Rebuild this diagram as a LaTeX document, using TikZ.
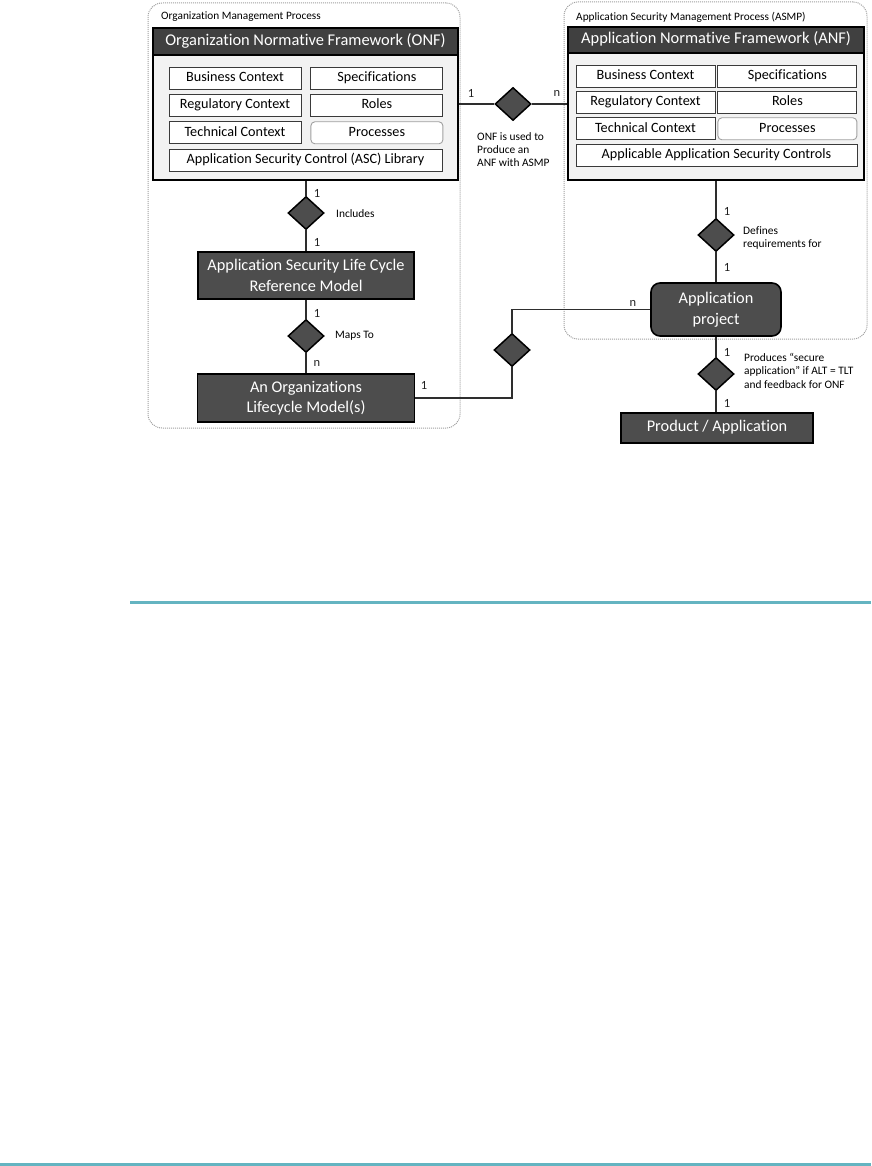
\documentclass[tikz,border=0pt]{standalone}
\usepackage{fontspec}
\setmainfont{Carlito}[Ligatures=NoCommon]
\usepackage{tikz}
\usetikzlibrary{positioning,shapes.geometric,calc}
\definecolor{darkgrey}{HTML}{4D4D4D}
\definecolor{headgrey}{HTML}{404040}
\definecolor{bodygrey}{HTML}{F2F2F2}
\definecolor{framegrey}{HTML}{A0A0A0}
\definecolor{edgegrey}{HTML}{3A3A3A}
\definecolor{linegrey}{HTML}{2E2E2E}
\definecolor{cardink}{HTML}{202020}
\definecolor{ruleteal}{HTML}{64B4C1}
\tikzset{
  procframe/.style={rectangle, draw=framegrey, dash pattern=on 1pt off 1pt,
    line width=1pt, rounded corners=14pt},
  proctitle/.style={font=\fontsize{11.3}{13}\selectfont, inner sep=0pt},
  fwbox/.style={rectangle, draw=black, fill=bodygrey, line width=1.6pt},
  fwhead/.style={rectangle, draw=black, fill=headgrey, line width=1.6pt,
    text=white, font=\fontsize{16.4}{19}\selectfont, inner sep=0pt,
    text height=11.5pt, text depth=4pt},
  itembox/.style={rectangle, draw=edgegrey, fill=white, line width=0.9pt,
    minimum width=#1, minimum height=22pt,
    font=\fontsize{14.2}{16}\selectfont, inner sep=0pt,
    text height=10pt, text depth=3.5pt},
  itembox/.default=132pt,
  darkbox/.style={rectangle, draw=black, fill=darkgrey, line width=1.6pt,
    text=white, align=center, font=\fontsize{16.3}{20.5}\selectfont,
    inner sep=0pt},
  relbox/.style={diamond, draw=black, fill=darkgrey, line width=1.5pt,
    minimum width=36pt, minimum height=33pt, inner sep=0pt},
  card/.style={font=\fontsize{12.5}{14}\selectfont, text=cardink, inner sep=0pt},
  note/.style={font=\fontsize{11.4}{13}\selectfont, align=left, inner sep=0pt,
    anchor=west},
  conn/.style={draw=linegrey, line width=1.2pt},
}
\begin{document}
\begin{tikzpicture}[x=1pt, y=-1pt]
    \useasboundingbox (0,0) rectangle (871,1166);
    % organization side
    \node[procframe, minimum width=312pt, minimum height=425pt] (omp) at (304,215.5) {};
    \node[proctitle, anchor=west] (omptitle) at (161,17) {Organization Management Process};
    \node[fwbox, minimum width=305pt, minimum height=152pt] (onf) at (305.5,104) {};
    \node[fwhead, minimum width=305pt, minimum height=27pt, anchor=north] (onfhead) at (onf.north) {Organization Normative Framework (ONF)};
    \node[itembox] (onfbus) at (235,78) {Business Context};
    \node[itembox, right=9pt of onfbus] (onfspec) {Specifications};
    \node[itembox, below=4.5pt of onfbus] (onfreg) {Regulatory Context};
    \node[itembox, below=4.5pt of onfspec] (onfroles) {Roles};
    \node[itembox, below=4.5pt of onfreg] (onftech) {Technical Context};
    \node[itembox, below=4.5pt of onfroles, draw=framegrey, rounded corners=4pt] (onfproc) {Processes};
    \node[itembox=273pt, below=4.5pt of onftech.south west, anchor=north west] (onflib) {Application Security Control (ASC) Library};
    \node[darkbox, minimum width=216pt, minimum height=47pt] (aslc) at (306,275.5) {Application Security Life Cycle\\Reference Model};
    \node[darkbox, minimum width=217pt, minimum height=48pt] (olm) at (306,398) {An Organizations\\Lifecycle Model(s)};
    % application side
    \node[procframe, minimum width=303pt, minimum height=337pt] (asmp) at (715.5,170.5) {};
    \node[proctitle, anchor=west] (asmptitle) at (576,17) {Application Security Management Process (ASMP)};
    \node[fwbox, minimum width=296pt, minimum height=153pt] (anf) at (716,103.5) {};
    \node[fwhead, minimum width=296pt, minimum height=26pt, anchor=north] (anfhead) at (anf.north) {Application Normative Framework (ANF)};
    \node[itembox=139pt] (anfbus) at (645.5,76) {Business Context};
    \node[itembox=139pt, right=2pt of anfbus] (anfspec) {Specifications};
    \node[itembox=139pt, below=3.5pt of anfbus] (anfreg) {Regulatory Context};
    \node[itembox=139pt, below=3.5pt of anfspec] (anfroles) {Roles};
    \node[itembox=139pt, below=3.5pt of anfreg] (anftech) {Technical Context};
    \node[itembox=139pt, below=3.5pt of anfroles, draw=framegrey, rounded corners=4pt] (anfproc) {Processes};
    \node[itembox=281pt, below=3.5pt of anftech.south west, anchor=north west] (anflib) {Applicable Application Security Controls};
    \node[darkbox, rounded corners=9pt, minimum width=130pt, minimum height=53pt] (appproj) at (716,309.5) {Application\\project};
    \node[darkbox, minimum width=192pt, minimum height=30pt, text height=11.5pt, text depth=4pt] (product) at (717,428) {Product / Application};
    % relationships
    \node[relbox] (includes) at (306,213) {};
    \node[relbox] (mapsto) at (306,336) {};
    \node[relbox] (produce) at (513,104) {};
    \node[relbox] (defines) at (716,235) {};
    \node[relbox] (produces) at (716,374) {};
    \node[relbox] (uses) at (512,350) {};
    \draw[conn] (onf.south -| includes) -- (includes) -- (aslc);
    \draw[conn] (aslc) -- (mapsto) -- (olm);
    \draw[conn] (onf.east |- produce) -- (produce) -- (anf.west |- produce);
    \draw[conn] (anf.south -| defines) -- (defines) -- (appproj);
    \draw[conn] (appproj) -- (produces) -- (product.north -| produces);
    \draw[conn] (olm.east) -| (uses.south);
    \draw[conn] (uses.north) |- (appproj.west);
    % cardinalities
    \node[card] (cinc1) at (317,193) {1};
    \node[card] (cinc2) at (317,242) {1};
    \node[card] (cmap1) at (317,313) {1};
    \node[card] (cmap2) at (317,363) {n};
    \node[card] (cpro1) at (471,93) {1};
    \node[card] (cpro2) at (557,93) {n};
    \node[card] (cdef1) at (727,211) {1};
    \node[card] (cdef2) at (727,267) {1};
    \node[card] (cout1) at (727,352) {1};
    \node[card] (cout2) at (727,403) {1};
    \node[card] (cuse1) at (424,385) {1};
    \node[card] (cuse2) at (633,303) {n};
    % relationship texts
    \node[note] (tinc) at (336,214) {Includes};
    \node[note] (tmap) at (335,336) {Maps To};
    \node[note] (tpro) at (477,150) {ONF is used to\\Produce an\\ANF with ASMP};
    \node[note] (tdef) at (743,238) {Defines\\requirements for};
    \node[note, font=\fontsize{11.4}{13.5}\selectfont] (tout) at (744,370.5) {Produces “secure\\application” if ALT = TLT\\and feedback for ONF};
    % page rules
    \draw[ruleteal, line width=2.7pt] (130,602.3) -- (871,602.3);
    \draw[ruleteal, line width=2.7pt] (0,1164.7) -- (871,1164.7);
\end{tikzpicture}
\end{document}
